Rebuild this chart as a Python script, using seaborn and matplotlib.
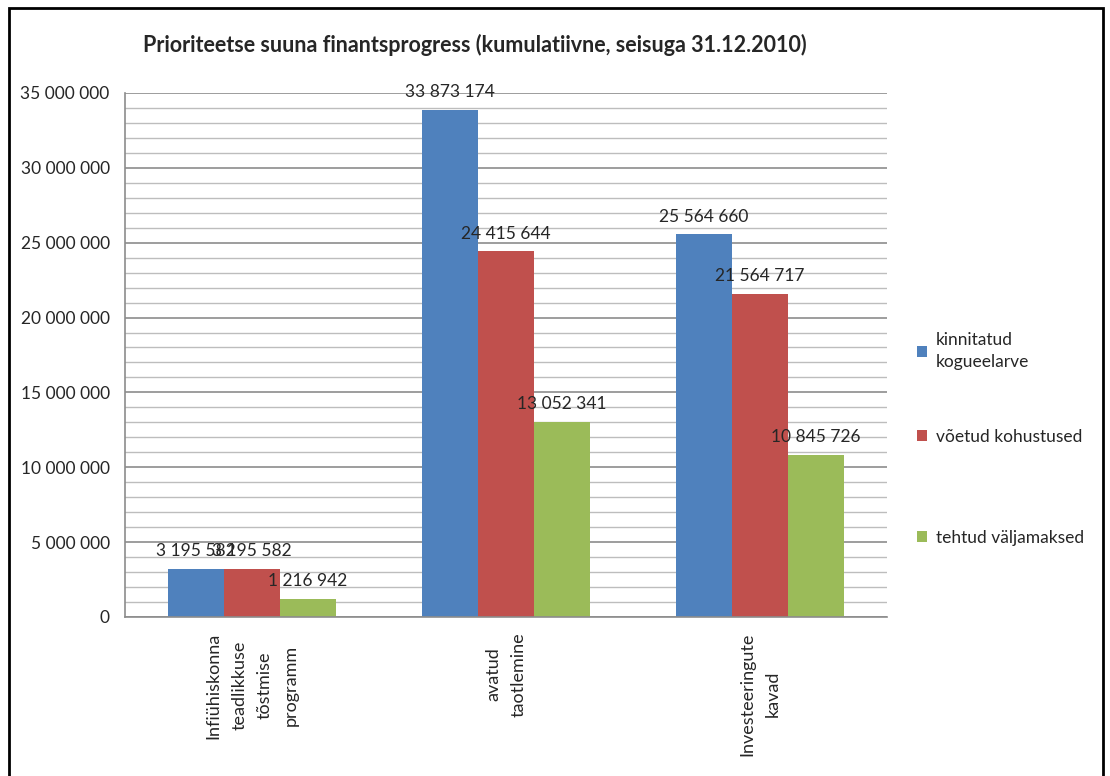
import pandas as pd
import matplotlib.pyplot as plt
from matplotlib.ticker import MultipleLocator, FuncFormatter, FixedLocator, NullFormatter
from matplotlib.patches import Rectangle
import seaborn as sns

# data
categories = ['Infiühiskonna\nteadlikkuse\ntõstmise\nprogramm',
              'avatud\ntaotlemine',
              'Investeeringute\nkavad']
series = ['kinnitatud kogueelarve', 'võetud kohustused', 'tehtud väljamaksed']
legend_labels = ['kinnitatud\nkogueelarve', 'võetud kohustused', 'tehtud väljamaksed']
kinnitatud = [3195582, 33873174, 25564660]
voetud     = [3195582, 24415644, 21564717]
tehtud     = [1216942, 13052341, 10845726]

df = pd.DataFrame({'kat': categories * 3,
                   'seeria': [series[0]] * 3 + [series[1]] * 3 + [series[2]] * 3,
                   'summa': kinnitatud + voetud + tehtud})

sns.set_style('white')
plt.rcParams['font.family'] = ['Lato', 'DejaVu Sans']

col = ['#4F81BD', '#C0504D', '#9BBB59']
fmt = lambda v: f'{v:,.0f}'.replace(',', ' ')

fig = plt.figure(figsize=(11.1, 7.76), dpi=100)
ax = fig.add_axes([0.1126, 0.2049, 0.6864, 0.6753])

sns.barplot(data=df, x='kat', y='summa', hue='seeria', palette=col, width=0.66,
            saturation=1, gap=0, linewidth=0, edgecolor='none', ax=ax, legend=True)

# gridlines like excel: light minor, darker major
ax.set_ylim(0, 35000000)
ax.set_xlim(-0.5, 2.5)
ax.yaxis.set_major_locator(MultipleLocator(5000000))
ax.yaxis.set_minor_locator(MultipleLocator(1000000))
ax.yaxis.set_major_formatter(FuncFormatter(lambda v, p: fmt(v)))
ax.grid(axis='y', which='major', color='#8c8c8c', linewidth=1.2, zorder=0)
ax.grid(axis='y', which='minor', color='#bdbdbd', linewidth=1.0, zorder=0)
ax.set_axisbelow(True)

for s in ['top', 'right']:
    ax.spines[s].set_visible(False)
for s in ['left', 'bottom']:
    ax.spines[s].set_color('#8c8c8c')
    ax.spines[s].set_linewidth(1.2)

ax.tick_params(axis='y', which='major', length=6, color='#8c8c8c', labelsize=12.5, pad=5)
ax.tick_params(axis='y', which='minor', length=0)

# category labels centred, boundary ticks on x axis
ax.set_xticks([0, 1, 2])
ax.set_xticklabels(categories, rotation=90, va='top', ha='center', multialignment='center',
                   fontsize=13, linespacing=1.75)
ax.tick_params(axis='x', which='major', length=0, pad=11)
ax.xaxis.set_minor_locator(FixedLocator([-0.5, 0.5, 1.5, 2.5]))
ax.xaxis.set_minor_formatter(NullFormatter())
ax.tick_params(axis='x', which='minor', length=6, color='#8c8c8c')
ax.set_xlabel(''); ax.set_ylabel('')

for c in ax.containers:
    ax.bar_label(c, labels=[fmt(v) for v in c.datavalues], padding=7, fontsize=12.5)

# one legend box per entry, spaced like the excel legend
h, l = ax.get_legend_handles_labels()
ax.get_legend().remove()
ypos = [0.5477, 0.4369, 0.3067]
for kk in range(3):
    lg = fig.legend([h[kk]], [legend_labels[kk]], loc='center left', bbox_to_anchor=(0.826, ypos[kk]),
                    frameon=False, fontsize=12.5, handlelength=0.6, handleheight=0.6,
                    handletextpad=0.5, borderpad=0, borderaxespad=0)
    for t in lg.get_texts():
        t.set_linespacing(1.5)

fig.text(0.4275, 0.942, 'Prioriteetse suuna finantsprogress (kumulatiivne, seisuga 31.12.2010)',
         ha='center', va='center', fontsize=15.5, weight='bold')

fig.patches.append(Rectangle((0.0085, -0.05), 0.985, 1.04, transform=fig.transFigure,
                             fill=False, edgecolor='black', linewidth=2))

fig.savefig('out.png', dpi=100)
